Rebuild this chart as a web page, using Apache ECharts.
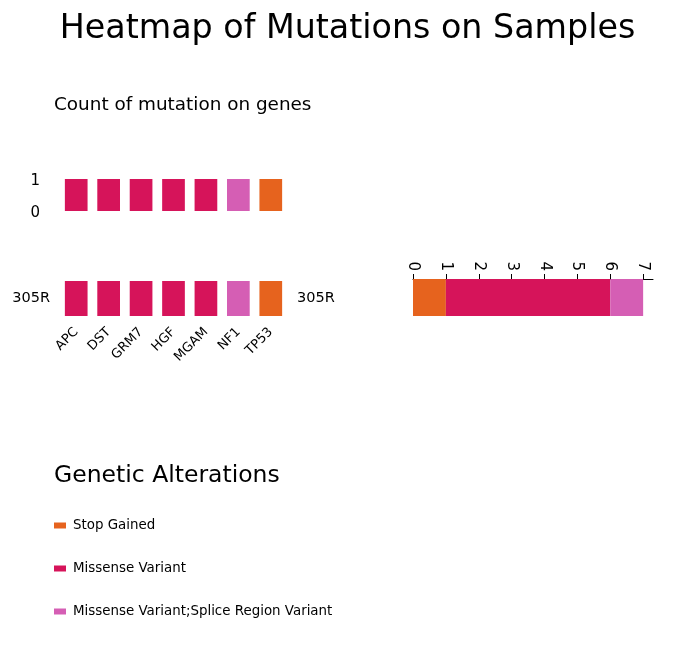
<!DOCTYPE html>
<html lang="en">
  <head>
    <meta charset="UTF-8">
    <title>Heatmap of Mutations on Samples</title>
    <script src="https://cdn.jsdelivr.net/npm/echarts@6.0.0/dist/echarts.min.js"></script>
  </head>
  <body style="margin:0">
    <div id="main" style="width: 695px;height:668px;"></div>
    <script type="text/javascript">
      // Genes and their mutation counts / types
      const genes = ['APC', 'DST', 'GRM7', 'HGF', 'MGAM', 'NF1', 'TP53'];
      const geneCounts = [1, 1, 1, 1, 1, 1, 1];
      const geneTypes = ['Missense Variant', 'Missense Variant', 'Missense Variant', 'Missense Variant',
        'Missense Variant', 'Missense Variant;Splice Region Variant', 'Stop Gained'];

      // Samples and count per alteration type
      const samples = ['305R'];
      const alterations = ['Stop Gained', 'Missense Variant', 'Missense Variant;Splice Region Variant'];
      const sampleCounts = [[1], [5], [1]];
      const sampleTicks = [0, 1, 2, 3, 4, 5, 6, 7];

      const colors = {
        'Stop Gained': '#e6631e',
        'Missense Variant': '#d6145a',
        'Missense Variant;Splice Region Variant': '#d55eb4'
      };

      const font = 'DejaVu Sans';
      let myChart = echarts.init(document.getElementById('main'));

      let options = {
        textStyle: { fontFamily: font, color: '#000' },
        title: [
          { text: 'Heatmap of Mutations on Samples', left: 'center', top: 8,
            textStyle: { fontFamily: font, fontSize: 33.3, fontWeight: 'normal', color: '#000' } },
          { text: 'Count of mutation on genes', left: 49, top: 91,
            textStyle: { fontFamily: font, fontSize: 18.4, fontWeight: 'normal', color: '#000' } },
          { text: 'Genetic Alterations', left: 49, top: 459,
            textStyle: { fontFamily: font, fontSize: 23.5, fontWeight: 'normal', color: '#000' } }
        ],
        legend: {
          orient: 'vertical', left: 49, top: 514, itemWidth: 12, itemHeight: 6, itemGap: 30,
          icon: 'rect', data: alterations,
          textStyle: { fontFamily: font, fontSize: 13.4, color: '#000', padding: [0, 0, 0, 2] }
        },
        grid: [
          { left: 60, width: 227, top: 179, height: 32 },
          { left: 60, width: 227, top: 281, height: 35 },
          { left: 413, right: 42, top: 279, height: 37 }
        ],
        xAxis: [
          { gridIndex: 0, type: 'category', data: genes, show: false },
          { gridIndex: 1, type: 'category', data: genes,
            axisLine: { show: false }, axisTick: { show: false },
            axisLabel: { rotate: 45, margin: 14, fontSize: 13, fontFamily: font, color: '#000' } },
          { gridIndex: 2, type: 'value', position: 'top', min: 0, max: 7.3,
            splitLine: { show: false },
            axisLine: { show: true, lineStyle: { color: '#000' } },
            axisTick: { show: true, length: 5, customValues: sampleTicks, lineStyle: { color: '#000' } },
            axisLabel: { rotate: 90, margin: 8, fontSize: 15, fontFamily: font, color: '#000',
              customValues: sampleTicks } }
        ],
        yAxis: [
          { gridIndex: 0, type: 'value', min: 0, max: 1, interval: 1,
            splitLine: { show: false }, axisLine: { show: false }, axisTick: { show: false },
            axisLabel: { margin: 20, fontFamily: font, color: '#000',
              formatter: '{a|{value}}',
              rich: { a: { fontSize: 15, fontFamily: font, color: '#000', padding: [5, 0, 0, 0] } } } },
          { gridIndex: 1, type: 'category', data: samples,
            axisLine: { show: false }, axisTick: { show: false },
            axisLabel: { margin: 10, fontSize: 14.5, fontFamily: font, color: '#000' } },
          { gridIndex: 1, type: 'category', data: samples, position: 'right',
            axisLine: { show: false }, axisTick: { show: false },
            axisLabel: { margin: 10, fontSize: 14.5, fontFamily: font, color: '#000' } },
          { gridIndex: 2, type: 'category', data: samples, show: false }
        ],
        series: [
          {
            type: 'bar', xAxisIndex: 0, yAxisIndex: 0, barWidth: '70%',
            data: geneCounts.map((v, i) => ({ value: v, itemStyle: { color: colors[geneTypes[i]] } }))
          },
          {
            type: 'custom', xAxisIndex: 1, yAxisIndex: 1,
            data: genes.map((g, i) => [i, 0, geneTypes[i]]),
            renderItem: function (params, api) {
              const c = api.coord([api.value(0), api.value(1)]);
              const s = api.size([1, 1]);
              const w = s[0] * 0.7;
              return {
                type: 'rect',
                shape: { x: c[0] - w / 2, y: c[1] - s[1] / 2, width: w, height: s[1] },
                style: { fill: colors[geneTypes[params.dataIndex]] }
              };
            }
          }
        ].concat(alterations.map((a, i) => ({
          name: a, type: 'bar', stack: 'total', xAxisIndex: 2, yAxisIndex: 3,
          barWidth: '100%', itemStyle: { color: colors[a] }, data: sampleCounts[i]
        })))
      };

      myChart.setOption(options);
    </script>
  </body>
</html>
